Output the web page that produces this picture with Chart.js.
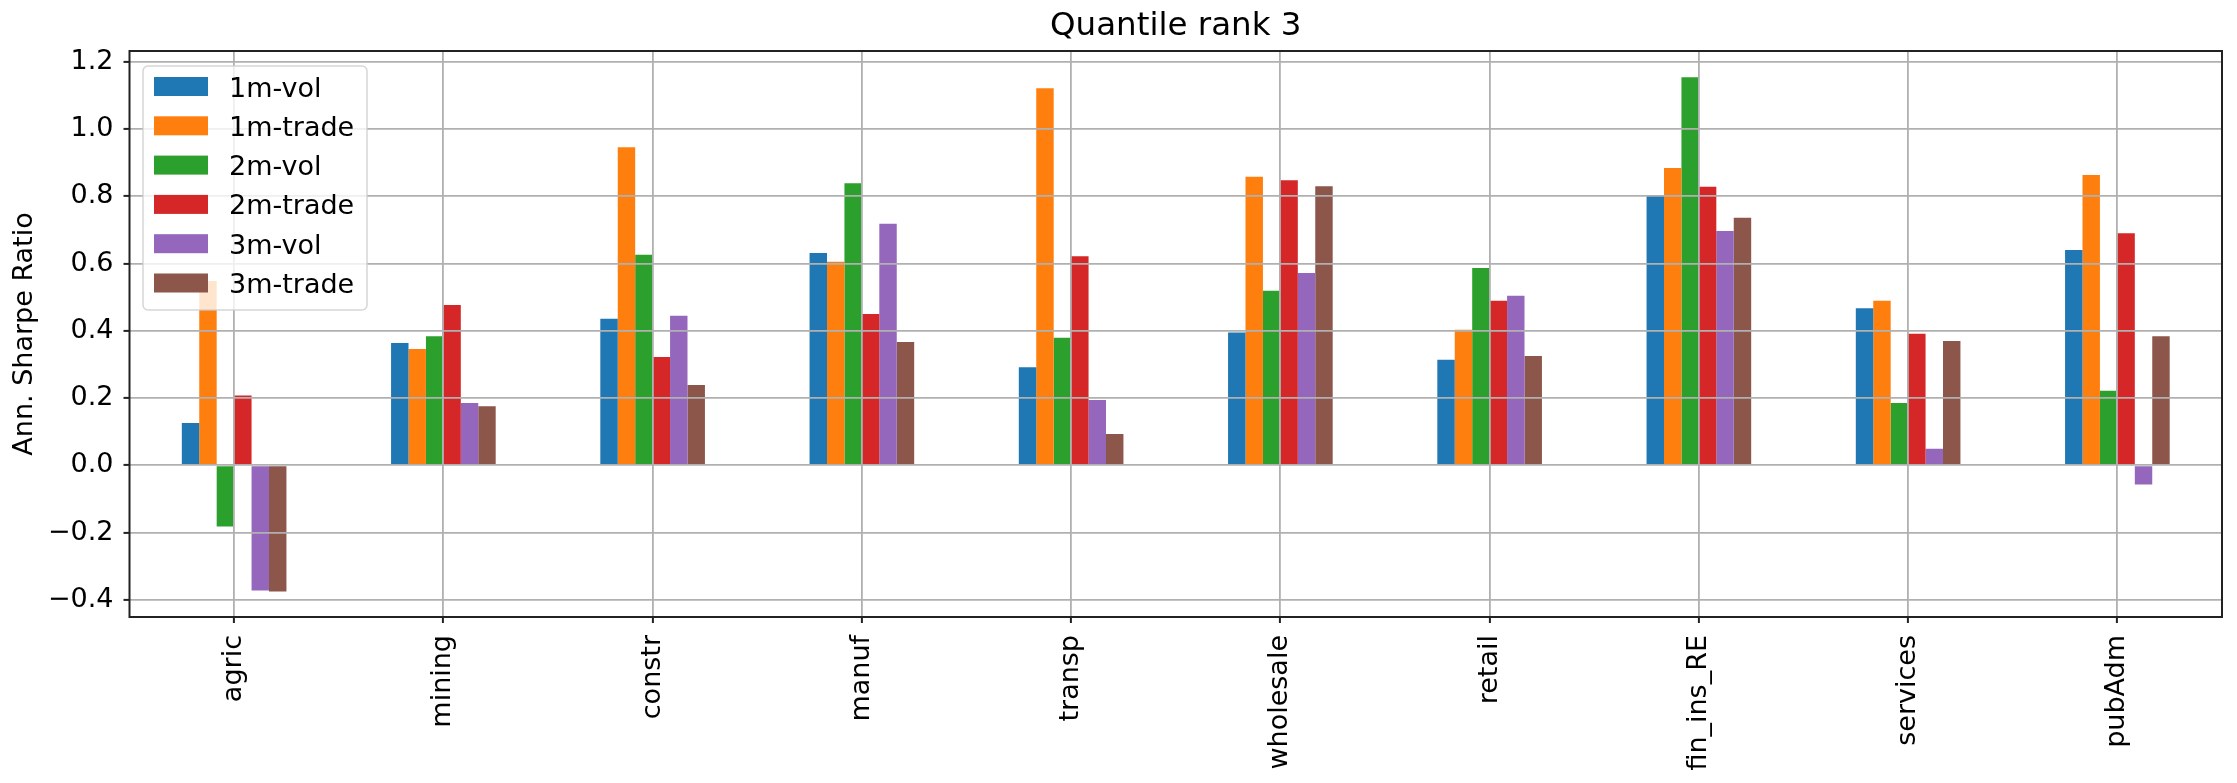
<!DOCTYPE html>
<html><head><meta charset="utf-8">
<script src="https://cdn.jsdelivr.net/npm/chart.js@4.4.1/dist/chart.umd.min.js"></script>
<style>html,body{margin:0;padding:0;background:#fff;overflow:hidden}#wrap{width:2237px;height:783px}</style>
</head><body><div id="wrap"><canvas id="c" width="2237" height="783"></canvas></div>
<script>
const categories = ['agric','mining','constr','manuf','transp','wholesale','retail','fin_ins_RE','services','pubAdm'];
const seriesNames = ['1m-vol','1m-trade','2m-vol','2m-trade','3m-vol','3m-trade'];
const vol1m   = [0.126, 0.364, 0.436, 0.631, 0.292, 0.395, 0.314, 0.804, 0.467, 0.640];
const trade1m = [0.548, 0.346, 0.946, 0.605, 1.121, 0.858, 0.403, 0.884, 0.489, 0.863];
const vol2m   = [-0.182, 0.384, 0.626, 0.839, 0.379, 0.519, 0.587, 1.154, 0.185, 0.222];
const trade2m = [0.208, 0.477, 0.322, 0.450, 0.622, 0.848, 0.489, 0.828, 0.391, 0.690];
const vol3m   = [-0.372, 0.185, 0.445, 0.718, 0.194, 0.572, 0.504, 0.697, 0.049, -0.057];
const trade3m = [-0.375, 0.176, 0.239, 0.367, 0.093, 0.830, 0.325, 0.736, 0.370, 0.384];
const yTicks = [-0.4, -0.2, 0.0, 0.2, 0.4, 0.6, 0.8, 1.0, 1.2];
const titleText = 'Quantile rank 3';
const yTitle = 'Ann. Sharpe Ratio';
const colors = ['#1f77b4','#ff7f0e','#2ca02c','#d62728','#9467bd','#8c564b'];

const FONT = "'DejaVu Sans', sans-serif";
const FS = 27;
Chart.defaults.font.family = FONT;
Chart.defaults.color = '#000';

const seriesValues = [vol1m, trade1m, vol2m, trade2m, vol3m, trade3m];
const datasets = seriesNames.map((name, i) => ({
  label: name,
  data: seriesValues[i],
  backgroundColor: colors[i],
  borderWidth: 0,
  categoryPercentage: 0.5,
  barPercentage: 1.0
}));

const fmt = v => (v < -1e-9 ? '\u2212' : '') + Math.abs(v).toFixed(1);

const gridStyle = {
  display: true, color: '#b0b0b0', lineWidth: 1.8, z: 1,
  drawTicks: true, tickLength: 6, tickColor: '#222', tickWidth: 2
};

const framePlugin = {
  id: 'frameAndLegend',
  afterDraw(chart) {
    const ctx = chart.ctx, ca = chart.chartArea;
    ctx.save();
    ctx.strokeStyle = '#222';
    ctx.lineWidth = 2;
    ctx.strokeRect(ca.left, ca.top, ca.right - ca.left, ca.bottom - ca.top);
    const bx = ca.left + 13.5, by = ca.top + 15, bw = 224, bh = 244, r = 5;
    ctx.beginPath();
    ctx.moveTo(bx + r, by);
    ctx.lineTo(bx + bw - r, by);
    ctx.arcTo(bx + bw, by, bx + bw, by + r, r);
    ctx.lineTo(bx + bw, by + bh - r);
    ctx.arcTo(bx + bw, by + bh, bx + bw - r, by + bh, r);
    ctx.lineTo(bx + r, by + bh);
    ctx.arcTo(bx, by + bh, bx, by + bh - r, r);
    ctx.lineTo(bx, by + r);
    ctx.arcTo(bx, by, bx + r, by, r);
    ctx.closePath();
    ctx.fillStyle = 'rgba(255,255,255,0.8)';
    ctx.fill();
    ctx.strokeStyle = 'rgba(204,204,204,0.8)';
    ctx.lineWidth = 1.5;
    ctx.stroke();
    ctx.font = FS + 'px ' + FONT;
    ctx.textBaseline = 'alphabetic';
    ctx.textAlign = 'left';
    chart.data.datasets.forEach((ds, i) => {
      const cy = by + 20.5 + i * 39.3;
      ctx.fillStyle = ds.backgroundColor;
      ctx.fillRect(bx + 11, cy - 9.5, 54, 19);
      ctx.fillStyle = '#000';
      ctx.fillText(ds.label, bx + 86, cy + 10);
    });
    ctx.restore();
  }
};

new Chart(document.getElementById('c'), {
  type: 'bar',
  data: { labels: categories, datasets },
  options: {
    responsive: false,
    animation: false,
    devicePixelRatio: 1,
    layout: { padding: { left: 0, right: 15, top: 0, bottom: 0 } },
    plugins: {
      legend: { display: false },
      tooltip: { enabled: false },
      title: {
        display: true, text: titleText, fullSize: false, color: '#000',
        font: { family: FONT, size: 32.5, weight: 'normal' },
        padding: { top: 7.5, bottom: 4.5 }
      }
    },
    scales: {
      x: {
        type: 'category',
        offset: true,
        grid: Object.assign({ offset: false }, gridStyle),
        border: { display: false },
        ticks: { maxRotation: 90, minRotation: 90, autoSkip: false, color: '#000',
                 font: { family: FONT, size: FS }, padding: 12 },
        afterFit: s => { s.height = 166; }
      },
      y: {
        type: 'linear',
        min: -0.451, max: 1.232,
        grid: gridStyle,
        border: { display: false },
        afterBuildTicks: s => { s.ticks = yTicks.map(v => ({ value: v })); },
        ticks: { callback: v => fmt(v), color: '#000', font: { family: FONT, size: FS }, padding: 10 },
        title: { display: true, text: yTitle, color: '#000', font: { family: FONT, size: FS },
                 padding: { top: 9, bottom: 0 } },
        afterFit: s => { s.width = 129.5; }
      }
    }
  },
  plugins: [framePlugin]
});
</script>
</body></html>
